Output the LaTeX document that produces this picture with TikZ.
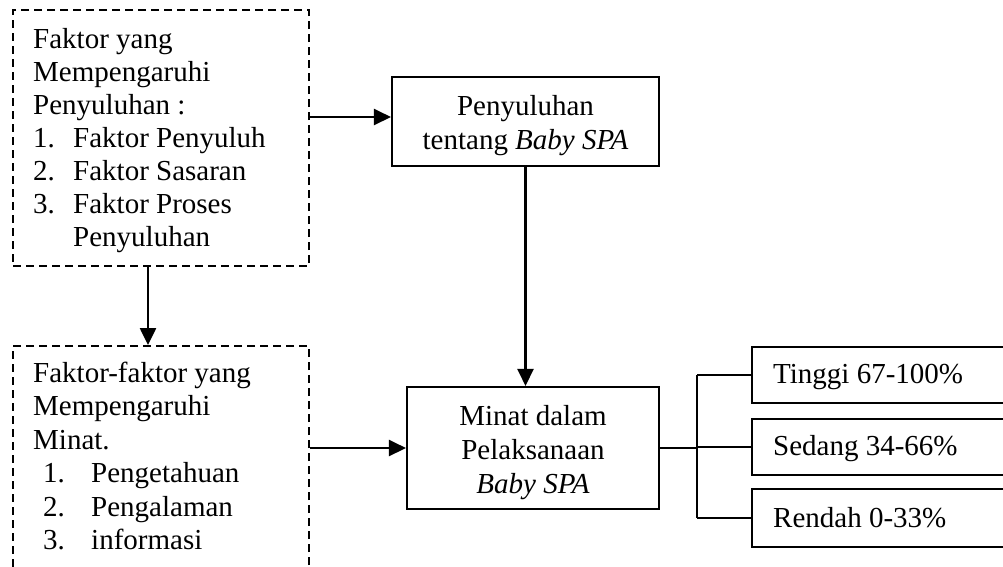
\documentclass[tikz,border=0pt]{standalone}
\usepackage{fontspec}
\setmainfont{Liberation Serif}
\usetikzlibrary{arrows.meta}
\begin{document}
\begin{tikzpicture}[x=1pt,y=-1pt,
  dbox/.style={draw, line width=1.9pt, dash pattern=on 8pt off 5pt, inner sep=0pt},
  sbox/.style={draw, line width=2.1pt, inner sep=0pt},
  txt/.style={inner sep=0pt, font=\fontsize{29pt}{33pt}\selectfont},
  arr/.style={line width=2.4pt, -{Triangle[length=17pt,width=16pt]}},
  ln/.style={line width=2pt}]
\useasboundingbox (0,0) rectangle (1003,566);
\clip (0,0) rectangle (1003,566);
% boxes
\node[dbox, minimum width=296pt, minimum height=256pt] (f1) at (161,138) {};
\node[dbox, minimum width=296pt, minimum height=274pt] (f2) at (161,483) {};
\node[sbox, minimum width=267pt, minimum height=89pt] (pen) at (525.5,121.5) {};
\node[sbox, minimum width=252pt, minimum height=122pt] (min) at (533,448) {};
\node[sbox, minimum width=288pt, minimum height=56pt] (ti) at (896,375) {};
\node[sbox, minimum width=288pt, minimum height=56pt] (se) at (896,447) {};
\node[sbox, minimum width=288pt, minimum height=58pt] (re) at (896,518) {};
% box 1 text
\node[txt, anchor=base west] (a1) at (33,48) {Faktor yang};
\node[txt, anchor=base west] (a2) at (33,81) {Mempengaruhi};
\node[txt, anchor=base west] (a3) at (33,114) {Penyuluhan :};
\node[txt, anchor=base west] (a4n) at (33,147) {1.};
\node[txt, anchor=base west] (a4) at (73,147) {Faktor Penyuluh};
\node[txt, anchor=base west] (a5n) at (33,180) {2.};
\node[txt, anchor=base west] (a5) at (73,180) {Faktor Sasaran};
\node[txt, anchor=base west] (a6n) at (33,213) {3.};
\node[txt, anchor=base west] (a6) at (73,213) {Faktor Proses};
\node[txt, anchor=base west] (a7) at (73,246) {Penyuluhan};
% box 2 text
\node[txt, anchor=base west] (b1) at (33,382) {Faktor-faktor yang};
\node[txt, anchor=base west] (b2) at (33,415.5) {Mempengaruhi};
\node[txt, anchor=base west] (b3) at (33,449) {Minat.};
\node[txt, anchor=base west] (b4n) at (43,482.5) {1.};
\node[txt, anchor=base west] (b4) at (91,482.5) {Pengetahuan};
\node[txt, anchor=base west] (b5n) at (43,516) {2.};
\node[txt, anchor=base west] (b5) at (91,516) {Pengalaman};
\node[txt, anchor=base west] (b6n) at (43,549.5) {3.};
\node[txt, anchor=base west] (b6) at (91,549.5) {informasi};
% penyuluhan text
\node[txt, anchor=base] (p1) at (525.5,115) {Penyuluhan};
\node[txt, anchor=base] (p2) at (525.5,149) {tentang \textit{Baby SPA}};
% minat text
\node[txt, anchor=base] (m1) at (533,425) {Minat dalam};
\node[txt, anchor=base] (m2) at (533,459) {Pelaksanaan};
\node[txt, anchor=base] (m3) at (533,493) {\textit{Baby SPA}};
% right texts
\node[txt, anchor=base west] (t1) at (773,383) {Tinggi 67-100\%};
\node[txt, anchor=base west] (t2) at (773,455) {Sedang 34-66\%};
\node[txt, anchor=base west] (t3) at (773,527) {Rendah 0-33\%};
% connectors
\coordinate (pin) at ([yshift=4.5pt]pen.west);
\draw[arr] (f1.east |- pin) -- (pin);
\coordinate (fdown) at ([xshift=-13pt]f1.south);
\draw[arr] (fdown) -- (fdown |- f2.north);
\draw[arr] (pen.south) -- (pen.south |- min.north);
\draw[arr] (f2.east |- min.west) -- (min.west);
\coordinate (j) at ([xshift=37pt]min.east);
\draw[ln] (min.east) -- (j);
\draw[ln] (j |- ti.west) -- (j |- re.west);
\draw[ln] (j |- ti.west) -- (ti.west);
\draw[ln] (j |- se.west) -- (se.west);
\draw[ln] (j |- re.west) -- (re.west);
\end{tikzpicture}
\end{document}
